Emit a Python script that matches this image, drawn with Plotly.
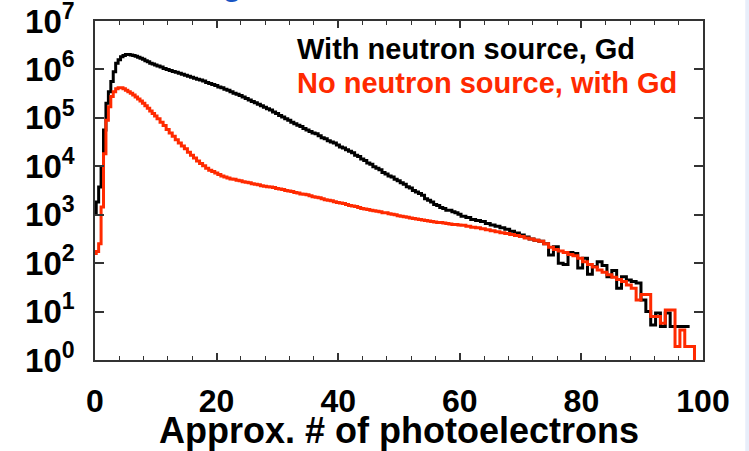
import plotly.graph_objects as go

# Bin left edges (photoelectrons): fine bins near the peak, medium in the middle, coarser in the tail
edges_fine = [0.0] + [round(0.2 + 0.4 * k, 2) for k in range(25)]
edges_mid = [round(10.2 + 0.5 * k, 2) for k in range(100)]
edges_tail = [round(60.2 + 0.8 * k, 2) for k in range(50)] + [100.2]
pe_edges = edges_fine + edges_mid + edges_tail

# log10(counts)
with_source_log = [
    3.02, 3.26, 3.57, 3.99, 4.75, 5.30, 5.54, 5.75, 5.95, 6.13, 6.20, 6.26, 6.29,
    6.31, 6.31, 6.30, 6.29, 6.27, 6.25, 6.23, 6.21, 6.18, 6.16, 6.13, 6.11, 6.09,
    # 0.5-unit bins 10.2 .. 59.7
    6.07, 6.05, 6.02, 6.00, 5.98, 5.96, 5.94, 5.92, 5.90, 5.88,
    5.86, 5.84, 5.82, 5.80, 5.78, 5.76, 5.73, 5.71, 5.69, 5.67,
    5.64, 5.62, 5.59, 5.57, 5.54, 5.51, 5.49, 5.46, 5.43, 5.40,
    5.37, 5.34, 5.31, 5.28, 5.25, 5.22, 5.19, 5.16, 5.12, 5.09,
    5.05, 5.02, 4.98, 4.95, 4.91, 4.88, 4.85, 4.82, 4.78, 4.75,
    4.72, 4.69, 4.67, 4.63, 4.59, 4.57, 4.53, 4.50, 4.48, 4.44,
    4.40, 4.38, 4.34, 4.31, 4.28, 4.23, 4.20, 4.15, 4.12, 4.07,
    4.04, 3.99, 3.96, 3.93, 3.87, 3.84, 3.80, 3.78, 3.73, 3.70,
    3.66, 3.63, 3.58, 3.55, 3.50, 3.47, 3.44, 3.40, 3.33, 3.30,
    3.26, 3.21, 3.19, 3.15, 3.13, 3.09, 3.09, 3.06, 3.04, 3.01,
    # 0.8-unit bins 60.2 .. 99.4
    2.97, 2.94, 2.90, 2.88, 2.86, 2.82, 2.79, 2.76, 2.73, 2.70,
    2.66, 2.62, 2.58, 2.54, 2.50, 2.47, 2.45, 2.40, 2.17, 2.34,
    2.00, 1.97, 2.22, 2.20, 1.90, 2.10, 1.77, 1.93, 2.03, 1.95,
    1.72, 1.85, 1.48, 1.72, 1.65, 1.62, 1.59, 1.24, 1.00, 0.72,
    0.97, 0.69, 0.97, 0.69, 0.69, 0.69, 0.69, 0.69, None, None,
    None,
]

no_source_log = [
    2.20, 2.24, 2.40, 3.16, 4.26, 4.95, 5.23, 5.44, 5.54, 5.60, 5.62, 5.62, 5.60,
    5.57, 5.54, 5.51, 5.47, 5.43, 5.39, 5.35, 5.30, 5.25, 5.20, 5.14, 5.09, 5.04,
    # 0.5-unit bins 10.2 .. 59.7
    4.98, 4.91, 4.84, 4.76, 4.69, 4.62, 4.55, 4.48, 4.42, 4.36,
    4.29, 4.23, 4.17, 4.11, 4.06, 4.01, 3.96, 3.92, 3.89, 3.86,
    3.83, 3.80, 3.78, 3.76, 3.74, 3.73, 3.71, 3.70, 3.68, 3.67,
    3.66, 3.64, 3.63, 3.62, 3.60, 3.59, 3.58, 3.57, 3.56, 3.54,
    3.53, 3.52, 3.50, 3.49, 3.48, 3.46, 3.45, 3.43, 3.42, 3.41,
    3.39, 3.37, 3.36, 3.35, 3.33, 3.31, 3.30, 3.29, 3.27, 3.25,
    3.24, 3.23, 3.21, 3.19, 3.18, 3.17, 3.15, 3.13, 3.12, 3.11,
    3.09, 3.08, 3.07, 3.06, 3.04, 3.04, 3.02, 3.01, 3.00, 2.98,
    2.97, 2.96, 2.95, 2.93, 2.92, 2.91, 2.90, 2.89, 2.88, 2.87,
    2.86, 2.85, 2.84, 2.84, 2.83, 2.82, 2.81, 2.80, 2.80, 2.79,
    # 0.8-unit bins 60.2 .. 99.4
    2.78, 2.76, 2.74, 2.73, 2.71, 2.69, 2.67, 2.65, 2.63, 2.61,
    2.59, 2.57, 2.55, 2.52, 2.50, 2.47, 2.45, 2.40, 2.33, 2.28,
    2.25, 2.22, 2.18, 2.15, 2.10, 2.03, 1.97, 1.92, 1.86, 1.81,
    1.76, 1.71, 1.66, 1.62, 1.55, 1.48, 1.24, 1.35, 1.35, 0.90,
    0.90, 0.76, 1.03, 1.03, 0.28, 0.62, 0.28, 0.28, -1.0, -1.0,
    -1.0,
]

y_tick_exponents = [0, 1, 2, 3, 4, 5, 6, 7]
x_tick_values = [0, 20, 40, 60, 80, 100]

series_names = ["With neutron source, Gd", "No neutron source, with Gd"]
series_colors = ["#000000", "#ff2a00"]


def to_counts(logs):
    return [None if v is None else 10 ** v for v in logs]


FONT = "Liberation Sans, Arial, sans-serif"

fig = go.Figure()
for logs, name, color in zip([with_source_log, no_source_log], series_names, series_colors):
    fig.add_trace(go.Scatter(
        x=pe_edges, y=to_counts(logs), mode="lines", name=name,
        line=dict(color=color, width=3, shape="hv"), connectgaps=False,
        showlegend=False,
    ))

# legend-like labels
for i, (name, color) in enumerate(zip(series_names, series_colors)):
    fig.add_annotation(
        x=0.329, y=0.916 - i * 0.1, xref="paper", yref="paper",
        xanchor="left", yanchor="middle", showarrow=False,
        text=f"<b>{name}</b>", font=dict(family=FONT, size=29, color=color),
    )

# partially visible blue title glyph at the very top
fig.add_annotation(
    x=0.225, y=1.051, xref="paper", yref="paper", xanchor="center", yanchor="bottom",
    showarrow=False, text="<b>g</b>", font=dict(family=FONT, size=30, color="#1a55c4"),
)

# light blue strip at the right edge
fig.add_shape(type="rect", xref="paper", yref="paper", x0=1.0695, x1=1.2, y0=-0.4, y1=1.2,
              fillcolor="#e8eefa", line=dict(width=0), layer="below")

fig.update_layout(
    width=749, height=451,
    margin=dict(l=95, r=46, t=21, b=91, autoexpand=False),
    paper_bgcolor="white", plot_bgcolor="white",
    font=dict(family=FONT, color="black"),
    xaxis=dict(
        range=[0, 100], tickvals=x_tick_values, automargin=False,
        ticks="inside", ticklen=7, tickwidth=1.5, tickcolor="#333",
        minor=dict(dtick=4, ticks="inside", ticklen=4.5, tickwidth=1.2, tickcolor="#333", showgrid=False),
        showline=True, linecolor="#333", linewidth=1.5, mirror="allticks",
        showgrid=False, zeroline=False,
        tickfont=dict(family=FONT, size=32, weight=700, color="black"),
        ticklabelstandoff=12, ticklabeloverflow="allow",
        title=dict(text="<b>Approx. # of photoelectrons</b>",
                   font=dict(family=FONT, size=36, color="black"), standoff=3),
    ),
    yaxis=dict(
        type="log", range=[-0.0005, 7.0005], automargin=False,
        tickvals=[10 ** e for e in y_tick_exponents],
        ticktext=[f"<b>10<sup>{e}</sup></b>" for e in y_tick_exponents],
        ticks="inside", ticklen=9, tickwidth=1.5, tickcolor="#333",
        showline=True, linecolor="#333", linewidth=1.5, mirror="allticks",
        showgrid=False, zeroline=False,
        tickfont=dict(family=FONT, size=33, color="black"),
        ticklabelstandoff=12, ticklabeloverflow="allow",
    ),
)

fig.write_html("out.html")
